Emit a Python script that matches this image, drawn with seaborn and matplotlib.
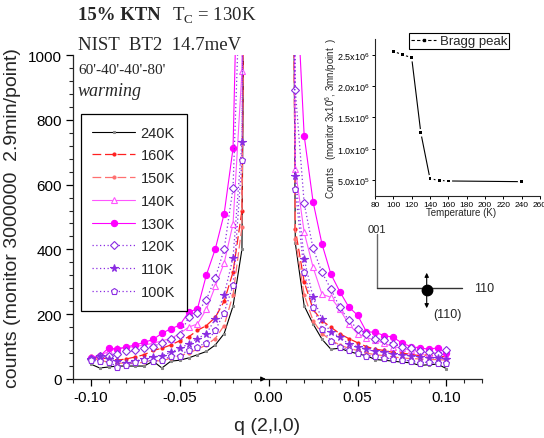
import matplotlib
matplotlib.use("Agg")
import numpy as np
import pandas as pd
import seaborn as sns
import matplotlib.pyplot as plt
from matplotlib.ticker import MultipleLocator, FuncFormatter
from matplotlib.lines import Line2D

# ---------------- data ----------------
q_neg = [-0.100, -0.095, -0.090, -0.085, -0.080, -0.075, -0.070, -0.065, -0.060, -0.055,
         -0.050, -0.045, -0.040, -0.035, -0.030, -0.025, -0.020, -0.015, -0.010]
q_pos = [0.010, 0.015, 0.020, 0.025, 0.030, 0.035, 0.040, 0.045, 0.050, 0.055,
         0.060, 0.065, 0.070, 0.075, 0.080, 0.085, 0.090, 0.095, 0.100]

labels = ["240K", "160K", "150K", "140K", "130K", "120K", "110K", "100K"]

k240_neg = [46, 34, 37, 40, 40, 40, 40, 55, 34, 55, 58, 65, 75, 85, 105, 140, 225, 400, 4000]
k240_pos = [5000, 420, 226, 170, 123, 92, 95, 85, 78, 72, 60, 58, 55, 52, 50, 42, 44, 46, 32]
k160_neg = [72, 62, 65, 58, 62, 68, 75, 88, 95, 105, 118, 130, 150, 165, 190, 240, 330, 520, 4000]
k160_pos = [5000, 463, 300, 215, 180, 160, 140, 125, 112, 100, 92, 88, 82, 80, 76, 72, 75, 70, 68]
k150_neg = [65, 58, 52, 48, 50, 48, 52, 58, 55, 65, 72, 80, 92, 105, 125, 165, 260, 470, 4000]
k150_pos = [5000, 432, 260, 180, 140, 120, 105, 95, 88, 80, 75, 72, 68, 65, 63, 62, 60, 60, 58]
k140_neg = [68, 72, 85, 95, 97, 100, 105, 110, 118, 125, 140, 160, 170, 215, 286, 358, 479, 950, 4000]
k140_pos = [5000, 648, 453, 345, 262, 252, 215, 170, 140, 128, 120, 110, 100, 95, 88, 85, 80, 80, 72]
k130_neg = [65, 70, 96, 92, 99, 105, 113, 122, 141, 155, 166, 206, 217, 321, 401, 510, 712, 1900, 5000]
k130_pos = [8000, 1300, 751, 547, 417, 324, 270, 223, 197, 146, 144, 134, 129, 111, 100, 96, 92, 96, 80]
k120_neg = [62, 72, 72, 78, 85, 88, 95, 100, 112, 122, 135, 190, 205, 245, 312, 400, 590, 1400, 5000]
k120_pos = [8000, 893, 542, 403, 329, 278, 221, 182, 155, 140, 125, 120, 108, 100, 95, 85, 82, 78, 88]
k110_neg = [62, 70, 62, 55, 50, 55, 62, 68, 72, 82, 95, 108, 125, 140, 185, 260, 374, 730, 5000]
k110_pos = [5000, 627, 370, 252, 185, 144, 130, 108, 100, 92, 85, 82, 78, 75, 72, 68, 66, 64, 62]
k100_neg = [58, 55, 52, 38, 42, 52, 58, 55, 58, 70, 72, 90, 100, 112, 150, 205, 289, 675, 5000]
k100_pos = [5000, 586, 329, 221, 155, 118, 100, 90, 80, 72, 70, 65, 62, 60, 55, 50, 52, 48, 50]

# inset: Bragg peak intensity vs temperature
temps = [100, 110, 120, 130, 140, 150, 160, 240]
bragg = [2.553e6, 2.50e6, 2.452e6, 1.253e6, 5.2e5, 4.95e5, 4.85e5, 4.74e5]

series = {
    "240K": k240_neg + k240_pos,
    "160K": k160_neg + k160_pos,
    "150K": k150_neg + k150_pos,
    "140K": k140_neg + k140_pos,
    "130K": k130_neg + k130_pos,
    "120K": k120_neg + k120_pos,
    "110K": k110_neg + k110_pos,
    "100K": k100_neg + k100_pos,
}
q_all = q_neg + q_pos
df = pd.concat([pd.DataFrame({"q": q_all, "counts": series[k], "T": k}) for k in labels],
               ignore_index=True)

# ---------------- styles ----------------
violet = "#8a2be2"
styles = {
    "240K": dict(color="black", ls="-", marker="s", ms=1.4, mfc="#888888", mec="#888888", lw=0.8),
    "160K": dict(color="#ff2020", ls=(0, (7, 3)), marker="o", ms=2.2, mfc="#ff2020", mec="#ff2020", lw=0.9),
    "150K": dict(color="#ff7070", ls=(0, (7, 3)), marker="o", ms=2.2, mfc="#ff7070", mec="#ff7070", lw=0.9),
    "140K": dict(color="#ff55ff", ls="-", marker="^", ms=4.5, mfc="white", mec="#ff55ff", lw=0.8),
    "130K": dict(color="#ff00ff", ls="-", marker="o", ms=4.5, mfc="#ff00ff", mec="#ff00ff", lw=0.8),
    "120K": dict(color=violet, ls=(0, (1, 2)), marker="D", ms=3.8, mfc="white", mec=violet, lw=0.9),
    "110K": dict(color=violet, ls=(0, (1, 2)), marker="*", ms=5.5, mfc=violet, mec=violet, lw=0.9),
    "100K": dict(color=violet, ls=(0, (1, 2)), marker="p", ms=4.5, mfc="white", mec=violet, lw=0.9),
}

sns.set_theme(style="ticks")
plt.rcParams["font.family"] = ["Liberation Sans", "DejaVu Sans"]
plt.rcParams["mathtext.fontset"] = "custom"
plt.rcParams["mathtext.rm"] = "Liberation Serif"
plt.rcParams["mathtext.sf"] = "Liberation Sans"
plt.rcParams["axes.linewidth"] = 0.9

W, H = 544, 439
fig = plt.figure(figsize=(W / 100, H / 100), dpi=100)
fig.patch.set_facecolor("white")

ax = fig.add_axes([73 / W, 1 - 380 / H, (482 - 73) / W, (380 - 56) / H])
ax.set_facecolor("white")

handles = []
for k in labels:
    st = styles[k]
    sub = df[df["T"] == k]
    sns.lineplot(data=sub, x="q", y="counts", ax=ax, color=st["color"], linestyle=st["ls"],
                 linewidth=st["lw"], marker=st["marker"], markersize=st["ms"],
                 markerfacecolor=st["mfc"], markeredgecolor=st["mec"], markeredgewidth=0.8,
                 errorbar=None, legend=False)
    handles.append(Line2D([], [], color=st["color"], linestyle=st["ls"], linewidth=st["lw"],
                          marker=st["marker"], markersize=st["ms"], markerfacecolor=st["mfc"],
                          markeredgecolor=st["mec"], markeredgewidth=0.8, label=k))

ax.set_xlim(-0.11, 0.12)
ax.set_ylim(0, 1000)
for s in ("top", "right"):
    ax.spines[s].set_visible(False)
ax.xaxis.set_major_locator(MultipleLocator(0.05))
ax.xaxis.set_minor_locator(MultipleLocator(0.01))
ax.yaxis.set_major_locator(MultipleLocator(200))
ax.yaxis.set_minor_locator(MultipleLocator(40))
ax.xaxis.set_major_formatter(FuncFormatter(lambda v, p: f"{v:.2f}" if abs(v) > 1e-9 else "0.00"))
ax.tick_params(which="major", direction="out", length=5, width=0.9, labelsize=11, pad=3,
               colors="black")
ax.tick_params(which="minor", direction="out", length=3, width=0.8)
ax.set_xticks([-0.10, -0.05, 0.0, 0.05, 0.10])
ax.set_ylabel("counts (monitor 3000000  2.9min/point)", fontsize=14, va="center")
ax.yaxis.set_label_coords(-0.147, 0.5)
ax.set_xlabel("q (2,l,0)", fontsize=14, va="center")
ax.xaxis.set_label_coords(0.474, -0.144)
ax.annotate("", xy=(0.0, 0), xytext=(-0.005, 0),
            arrowprops=dict(arrowstyle="-|>", color="black", lw=0.8, mutation_scale=7),
            annotation_clip=False)

leg = ax.legend(handles=handles, loc="upper left", bbox_to_anchor=(80.7 / W, 1 - 115 / H),
                bbox_transform=fig.transFigure, borderaxespad=0, fontsize=10.5,
                handlelength=2.9, handletextpad=0.4, borderpad=0.8, labelspacing=0.6,
                frameon=True, fancybox=False, framealpha=1, edgecolor="black", numpoints=1)
leg.get_frame().set_linewidth(0.9)

# header texts
serif = ["Liberation Serif", "DejaVu Serif"]
fig.text(78 / W, 1 - 16 / H, "15% KTN", family=serif, weight="bold", fontsize=13.5, va="center")
fig.text(172 / W, 1 - 16 / H, r"T$_\mathrm{C}$ = 130K", family=serif, fontsize=13.5, va="center")
fig.text(78 / W, 1 - 45 / H, "NIST  BT2  14.7meV", family=serif, fontsize=13.5, va="center")
fig.text(78 / W, 1 - 70 / H, "60'-40'-40'-80'", family=serif, fontsize=11, va="center")
fig.text(78 / W, 1 - 92 / H, "warming", family=serif, style="italic", fontsize=13, va="center")

# ---------------- inset ----------------
ax_in = fig.add_axes([375 / W, 1 - 196.7 / H, 165 / W, (196.7 - 40) / H])
ax_in.patch.set_alpha(0)
sns.lineplot(x=temps, y=bragg, ax=ax_in, color="black", linewidth=0.8, errorbar=None,
             legend=False)
sns.scatterplot(x=temps, y=bragg, ax=ax_in, color="white", s=30, edgecolor="none", zorder=3,
                legend=False)
sns.scatterplot(x=temps, y=bragg, ax=ax_in, color="black", marker="s", s=4, edgecolor="none",
                zorder=4, legend=False)
ax_in.set_xlim(80, 260)
ax_in.set_ylim(2.5e5, 2.75e6)
for s in ("top", "right"):
    ax_in.spines[s].set_visible(False)
for s in ("left", "bottom"):
    ax_in.spines[s].set_linewidth(0.8)
ax_in.set_xticks([80, 100, 120, 140, 160, 180, 200, 220, 240, 260])
ax_in.set_yticks([5e5, 1e6, 1.5e6, 2e6, 2.5e6])


def sci(v, p):
    if v < 1e6:
        return f"{v / 1e5:.1f}x10" + r"$^{\mathsf{5}}$"
    return f"{v / 1e6:.1f}x10" + r"$^{\mathsf{6}}$"


ax_in.yaxis.set_major_formatter(FuncFormatter(sci))
ax_in.tick_params(direction="out", length=2.5, width=0.7, labelsize=6.5, pad=1.5, colors="black")
ax_in.tick_params(axis="x", labelsize=6.0)
ax_in.set_xlabel("Temperature (K)", fontsize=7, va="center")
ax_in.xaxis.set_label_coords(0.52, -0.104)
ax_in.set_ylabel(r"Counts   (monitor 3x10$^{\mathsf{6}}$, 3mn/point  )", fontsize=7, va="center")
ax_in.yaxis.set_label_coords(-0.267, 0.5)
bh = Line2D([], [], color="black", linestyle=(0, (3, 2)), linewidth=0.8, marker="s",
            markersize=1.8, label="Bragg peak")
leg2 = ax_in.legend(handles=[bh], loc="upper left", bbox_to_anchor=(409 / W, 1 - 34 / H),
                    bbox_transform=fig.transFigure, borderaxespad=0, fontsize=9.5,
                    handlelength=1.9, handletextpad=0.3, borderpad=0.15, frameon=True,
                    fancybox=False, framealpha=1, edgecolor="black")
leg2.get_frame().set_linewidth(0.8)

# ---------------- orientation sketch ----------------
ov = fig.add_axes([0, 0, 1, 1])
ov.set_xlim(0, W)
ov.set_ylim(H, 0)
ov.axis("off")
ov.patch.set_alpha(0)
ov.plot([376.7, 376.7], [235, 289.3], color="#666666", lw=1.0)
ov.plot([376.7, 461.7], [289.3, 289.3], color="#333333", lw=1.0)
ov.annotate("", xy=(426.7, 271), xytext=(426.7, 291),
            arrowprops=dict(arrowstyle="-|>", color="black", lw=0.8, mutation_scale=6))
ov.annotate("", xy=(426.7, 312), xytext=(426.7, 291),
            arrowprops=dict(arrowstyle="-|>", color="black", lw=0.8, mutation_scale=6))
ov.plot([426.7], [291], marker="o", ms=7.5, color="black")
ov.text(377, 230, "001", ha="center", va="center", fontsize=8)
ov.text(484.5, 289, "110", ha="center", va="center", fontsize=9)
ov.text(447.5, 315, "(110)", ha="center", va="center", fontsize=9)

fig.savefig("out.png", dpi=100, facecolor="white")
